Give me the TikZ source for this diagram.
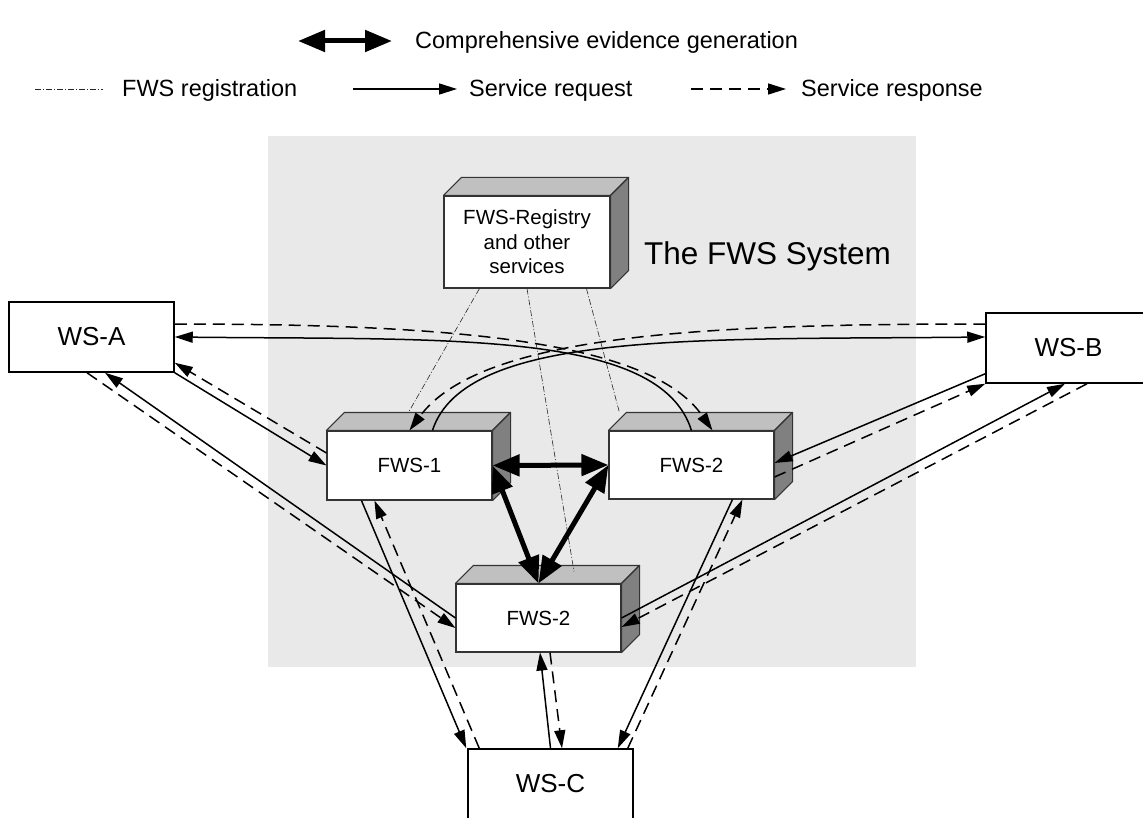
\documentclass[tikz,border=0pt]{standalone}
\usepackage{fontspec}
\setmainfont{Liberation Sans}
\usetikzlibrary{arrows.meta,calc}
\definecolor{bggray}{RGB}{233,233,233}
\definecolor{topgray}{RGB}{192,192,192}
\definecolor{sidegray}{RGB}{128,128,128}
\definecolor{edgegray}{RGB}{51,51,51}
\newcommand\boxfaces[1]{%
  \draw[topface] (#1.north west) -- ++(18,-18) -- ($(#1.north east)+(18,-18)$) -- (#1.north east) -- cycle;
  \draw[sideface] (#1.north east) -- ++(18,-18) -- ($(#1.south east)+(18,-18)$) -- (#1.south east) -- cycle;}
\begin{document}
\begin{tikzpicture}[x=1pt,y=-1pt,
  conn/.style={line width=1.5pt, -{Triangle[length=18pt,width=11pt]}},
  resp/.style={conn, dash pattern=on 12pt off 7pt},
  regline/.style={line width=0.6pt, draw=black!85, dash pattern=on 6pt off 2pt on 1pt off 2pt},
  evid/.style={line width=5pt, {Triangle[length=27pt,width=21pt]}-{Triangle[length=27pt,width=21pt]}},
  front/.style={draw=edgegray, line width=1.1pt, fill=white, inner sep=0pt, align=center, font=\fontsize{20.5}{24.5}\selectfont},
  wsbox/.style={draw=black, line width=1.5pt, fill=white, minimum width=165pt, minimum height=70pt, inner sep=0pt, font=\fontsize{26}{30}\selectfont},
  topface/.style={fill=topgray, draw=edgegray, line width=1.1pt, line join=round},
  sideface/.style={fill=sidegray, draw=edgegray, line width=1.1pt, line join=round},
  legtext/.style={anchor=base west, inner sep=0pt, font=\fontsize{23.5}{28}\selectfont}
]
\useasboundingbox (0,0) rectangle (1143,818);
\clip (0,0) rectangle (1143,818);
\fill[white] (0,0) rectangle (1143,818);

% legend
\node[legtext] (lg1) at (415,49) {Comprehensive evidence generation};
\coordinate (lg1a) at (298,41); \coordinate (lg1b) at (392,41);
\draw[evid] (lg1a) -- (lg1b);
\node[legtext] (lg2) at (122,97) {FWS registration};
\coordinate (lg2a) at (35,89); \coordinate (lg2b) at (103,89);
\draw[regline] (lg2a) -- (lg2b);
\node[legtext] (lg3) at (469,97) {Service request};
\coordinate (lg3a) at (353,89); \coordinate (lg3b) at (457,89);
\draw[conn] (lg3a) -- (lg3b);
\node[legtext] (lg4) at (801,97) {Service response};
\coordinate (lg4a) at (691,89); \coordinate (lg4b) at (786,89);
\draw[resp] (lg4a) -- (lg4b);

% system area
\fill[bggray] (268,136) rectangle (916,667);
\node[anchor=base west, inner sep=0pt, font=\fontsize{31.5}{36}\selectfont] (sys) at (644,265) {The FWS System};

% 3D boxes
\node[front, minimum width=166pt, minimum height=92pt] (reg) at (527,242) {FWS-Registry\\and other\\services};
\boxfaces{reg}
\node[front, minimum width=165pt, minimum height=69pt] (fws1) at (409.5,465.5) {FWS-1};
\boxfaces{fws1}
\node[front, minimum width=165pt, minimum height=68pt] (fws2) at (691.5,465) {FWS-2};
\boxfaces{fws2}
\node[front, minimum width=165pt, minimum height=68pt] (fws3) at (538.5,618) {FWS-2};
\boxfaces{fws3}

% web services
\node[wsbox] (wsa) at (91.5,337) {WS-A};
\node[wsbox] (wsb) at (1068.5,348) {WS-B};
\node[wsbox] (wsc) at (550.5,784) {WS-C};

% registration lines
\draw[regline] ($(reg.south west)+(36,0)$) -- ($(fws1.north west)+(82,-18)$);
\draw[regline] (reg.south) -- ($(fws3.north)+(35.5,-12)$);
\draw[regline] ($(reg.south west)+(143,0)$) -- ($(fws2.north west)+(11,-18)$);

% curved request/response
\draw[conn] ($(fws2.north west)+(83,0)$) .. controls (660,330) and (450,340) .. (wsa.east);
\draw[conn] ($(fws1.north west)+(106,0)$) .. controls (465,330) and (700,340) .. ($(wsb.west)+(0,-11)$);
\draw[resp] ($(wsa.east)+(0,-13)$) .. controls (450,324) and (650,340) .. ($(fws2.north west)+(104,0)$);
\draw[resp] ($(wsb.west)+(0,-24)$) .. controls (700,324) and (480,335) .. ($(fws1.north west)+(83,0)$);

% straight request/response
\draw[conn] (wsa.south east) -- (fws1.west);
\draw[resp] ($(fws1.west)+(0,-12.5)$) -- ($(wsa.south east)+(0,-10)$);
\draw[conn] (fws3.west) -- ($(wsa.south)+(13.5,0)$);
\draw[resp] ($(wsa.south)+(-4.5,0)$) -- ($(fws3.west)+(0,10)$);
\draw[conn] ($(fws1.south west)+(35,0)$) -- ($(wsc.north west)+(-1,0)$);
\draw[resp] ($(wsc.north west)+(12,0)$) -- ($(fws1.south west)+(48,0)$);
\draw[conn] (wsc.north) -- ($(fws3.south)+(1.5,0)$);
\draw[resp] ($(fws3.south)+(11.5,0)$) -- ($(wsc.north)+(11.5,0)$);
\draw[conn] ($(fws2.south west)+(124,0)$) -- ($(wsc.north east)+(-16,0)$);
\draw[resp] ($(wsc.north east)+(-6,0)$) -- ($(fws2.south west)+(134,0)$);
\draw[conn] ($(wsb.south west)+(0,-10)$) -- ($(fws2.east)+(0,-2)$);
\draw[resp] ($(fws2.east)+(0,12)$) -- (wsb.south west);
\draw[conn] (fws3.east) -- ($(wsb.south)+(-3.5,0)$);
\draw[resp] ($(wsb.south)+(18.5,0)$) -- ($(fws3.east)+(0,9)$);

% evidence generation
\draw[evid] (fws1.east) -- (fws2.west);
\draw[evid] (fws1.east) -- (fws3.north);
\draw[evid] (fws2.west) -- (fws3.north);
\end{tikzpicture}
\end{document}
